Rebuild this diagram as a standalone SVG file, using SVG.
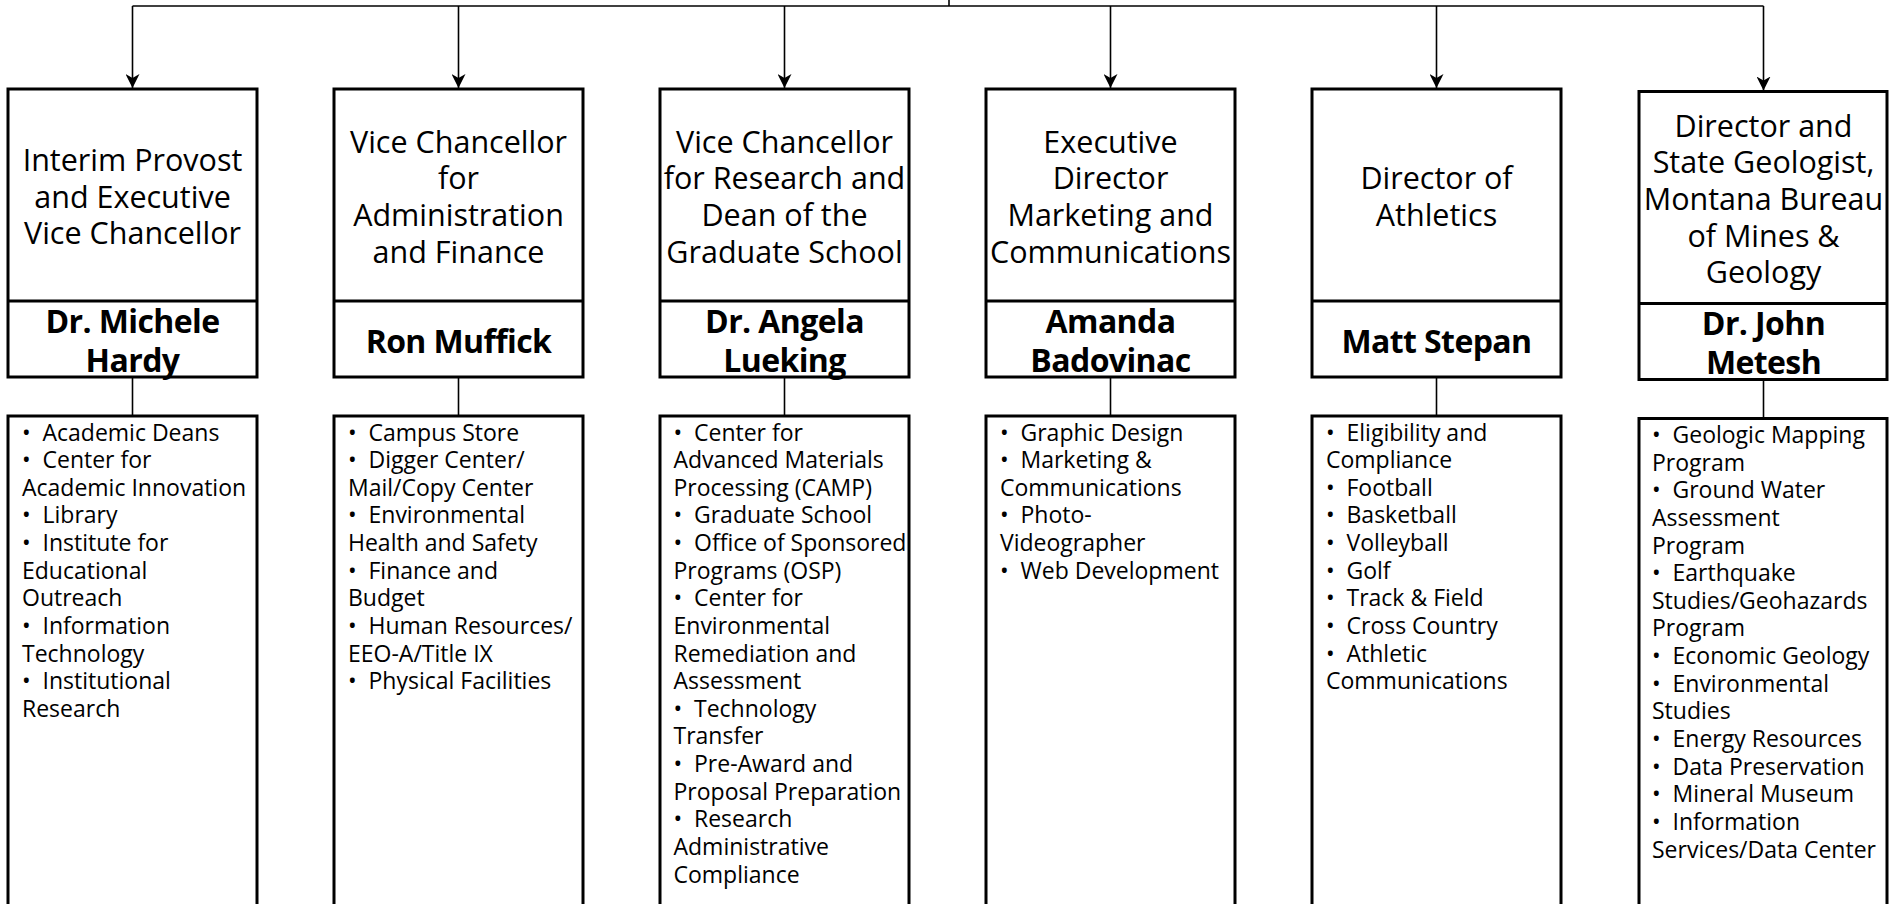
<svg xmlns="http://www.w3.org/2000/svg" width="1889" height="904" viewBox="0 0 1889 904">
<defs>
<style>
.box{fill:#fff;stroke:#000;stroke-width:3}
.dv{stroke:#000;stroke-width:3}
.c{stroke:#000;stroke-width:1.6;fill:none}
text{font-family:"Open Sans","Noto Sans",sans-serif;fill:#000;dominant-baseline:central}
.t{font-size:30.5px;text-anchor:middle}
.n{font-size:32px;font-weight:700;text-anchor:middle;letter-spacing:-0.6px}
.l{font-size:23px}
</style>
<marker id="arr" viewBox="0 0 14 14" refX="14" refY="7" markerWidth="14" markerHeight="14" markerUnits="userSpaceOnUse" orient="auto">
<path d="M0,0 L14,7 L0,14 L4,7 z" fill="#000"/>
</marker>
</defs>
<g id="connectors">
<line class="c" x1="949" y1="0" x2="949" y2="6"/>
<line class="c" x1="132.5" y1="6" x2="1763.5" y2="6"/>
<line class="c" x1="132.5" y1="6" x2="132.5" y2="88" marker-end="url(#arr)"/>
<line class="c" x1="458.5" y1="6" x2="458.5" y2="88" marker-end="url(#arr)"/>
<line class="c" x1="784.5" y1="6" x2="784.5" y2="88" marker-end="url(#arr)"/>
<line class="c" x1="1110.5" y1="6" x2="1110.5" y2="88" marker-end="url(#arr)"/>
<line class="c" x1="1436.5" y1="6" x2="1436.5" y2="88" marker-end="url(#arr)"/>
<line class="c" x1="1763.5" y1="6" x2="1763.5" y2="90.5" marker-end="url(#arr)"/>
<line class="c" x1="132.5" y1="377" x2="132.5" y2="416"/>
<line class="c" x1="458.5" y1="377" x2="458.5" y2="416"/>
<line class="c" x1="784.5" y1="377" x2="784.5" y2="416"/>
<line class="c" x1="1110.5" y1="377" x2="1110.5" y2="416"/>
<line class="c" x1="1436.5" y1="377" x2="1436.5" y2="416"/>
<line class="c" x1="1763.5" y1="379.5" x2="1763.5" y2="418.5"/>
</g>

<g id="node1">
<rect class="box" x="8" y="89" width="249" height="288"/>
<line class="dv" x1="8" y1="301" x2="257" y2="301"/>
<text class="t"><tspan x="132.5" y="158.8">Interim Provost</tspan><tspan x="132.5" y="195.5">and Executive</tspan><tspan x="132.5" y="232.2">Vice Chancellor</tspan></text>
<text class="n"><tspan x="132.5" y="320">Dr. Michele</tspan><tspan x="132.5" y="358.5">Hardy</tspan></text>
</g>
<g id="list1">
<rect class="box" x="8" y="416" width="249" height="520"/>
<text class="l">
<tspan x="22" y="431.5">•</tspan><tspan x="42.5" y="431.5">Academic Deans</tspan>
<tspan x="22" y="459.1">•</tspan><tspan x="42.5" y="459.1">Center for</tspan>
<tspan x="22" y="486.8">Academic Innovation</tspan>
<tspan x="22" y="514.4">•</tspan><tspan x="42.5" y="514.4">Library</tspan>
<tspan x="22" y="542">•</tspan><tspan x="42.5" y="542">Institute for</tspan>
<tspan x="22" y="569.7">Educational</tspan>
<tspan x="22" y="597.3">Outreach</tspan>
<tspan x="22" y="624.9">•</tspan><tspan x="42.5" y="624.9">Information</tspan>
<tspan x="22" y="652.5">Technology</tspan>
<tspan x="22" y="680.2">•</tspan><tspan x="42.5" y="680.2">Institutional</tspan>
<tspan x="22" y="707.8">Research</tspan>
</text>
</g>

<g id="node2">
<rect class="box" x="334" y="89" width="249" height="288"/>
<line class="dv" x1="334" y1="301" x2="583" y2="301"/>
<text class="t"><tspan x="458.5" y="140.5">Vice Chancellor</tspan><tspan x="458.5" y="177.2">for</tspan><tspan x="458.5" y="213.9">Administration</tspan><tspan x="458.5" y="250.6">and Finance</tspan></text>
<text class="n"><tspan x="458.5" y="339.5">Ron Muffick</tspan></text>
</g>
<g id="list2">
<rect class="box" x="334" y="416" width="249" height="520"/>
<text class="l">
<tspan x="348" y="431.5">•</tspan><tspan x="368.5" y="431.5">Campus Store</tspan>
<tspan x="348" y="459.1">•</tspan><tspan x="368.5" y="459.1">Digger Center/</tspan>
<tspan x="348" y="486.8">Mail/Copy Center</tspan>
<tspan x="348" y="514.4">•</tspan><tspan x="368.5" y="514.4">Environmental</tspan>
<tspan x="348" y="542">Health and Safety</tspan>
<tspan x="348" y="569.7">•</tspan><tspan x="368.5" y="569.7">Finance and</tspan>
<tspan x="348" y="597.3">Budget</tspan>
<tspan x="348" y="624.9">•</tspan><tspan x="368.5" y="624.9">Human Resources/</tspan>
<tspan x="348" y="652.5">EEO-A/Title IX</tspan>
<tspan x="348" y="680.2">•</tspan><tspan x="368.5" y="680.2">Physical Facilities</tspan>
</text>
</g>

<g id="node3">
<rect class="box" x="660" y="89" width="249" height="288"/>
<line class="dv" x1="660" y1="301" x2="909" y2="301"/>
<text class="t"><tspan x="784.5" y="140.5">Vice Chancellor</tspan><tspan x="784.5" y="177.2">for Research and</tspan><tspan x="784.5" y="213.9">Dean of the</tspan><tspan x="784.5" y="250.6">Graduate School</tspan></text>
<text class="n"><tspan x="784.5" y="320">Dr. Angela</tspan><tspan x="784.5" y="358.5">Lueking</tspan></text>
</g>
<g id="list3">
<rect class="box" x="660" y="416" width="249" height="520"/>
<text class="l">
<tspan x="673.5" y="431.5">•</tspan><tspan x="694" y="431.5">Center for</tspan>
<tspan x="673.5" y="459.1">Advanced Materials</tspan>
<tspan x="673.5" y="486.8">Processing (CAMP)</tspan>
<tspan x="673.5" y="514.4">•</tspan><tspan x="694" y="514.4">Graduate School</tspan>
<tspan x="673.5" y="542">•</tspan><tspan x="694" y="542">Office of Sponsored</tspan>
<tspan x="673.5" y="569.7">Programs (OSP)</tspan>
<tspan x="673.5" y="597.3">•</tspan><tspan x="694" y="597.3">Center for</tspan>
<tspan x="673.5" y="624.9">Environmental</tspan>
<tspan x="673.5" y="652.5">Remediation and</tspan>
<tspan x="673.5" y="680.2">Assessment</tspan>
<tspan x="673.5" y="707.8">•</tspan><tspan x="694" y="707.8">Technology</tspan>
<tspan x="673.5" y="735.4">Transfer</tspan>
<tspan x="673.5" y="763">•</tspan><tspan x="694" y="763">Pre-Award and</tspan>
<tspan x="673.5" y="790.7">Proposal Preparation</tspan>
<tspan x="673.5" y="818.3">•</tspan><tspan x="694" y="818.3">Research</tspan>
<tspan x="673.5" y="845.9">Administrative</tspan>
<tspan x="673.5" y="873.6">Compliance</tspan>
</text>
</g>

<g id="node4">
<rect class="box" x="986" y="89" width="249" height="288"/>
<line class="dv" x1="986" y1="301" x2="1235" y2="301"/>
<text class="t"><tspan x="1110.5" y="140.5">Executive</tspan><tspan x="1110.5" y="177.2">Director</tspan><tspan x="1110.5" y="213.9">Marketing and</tspan><tspan x="1110.5" y="250.6">Communications</tspan></text>
<text class="n"><tspan x="1110.5" y="320">Amanda</tspan><tspan x="1110.5" y="358.5">Badovinac</tspan></text>
</g>
<g id="list4">
<rect class="box" x="986" y="416" width="249" height="520"/>
<text class="l">
<tspan x="1000" y="431.5">•</tspan><tspan x="1020.5" y="431.5">Graphic Design</tspan>
<tspan x="1000" y="459.1">•</tspan><tspan x="1020.5" y="459.1">Marketing &amp;</tspan>
<tspan x="1000" y="486.8">Communications</tspan>
<tspan x="1000" y="514.4">•</tspan><tspan x="1020.5" y="514.4">Photo-</tspan>
<tspan x="1000" y="542">Videographer</tspan>
<tspan x="1000" y="569.7">•</tspan><tspan x="1020.5" y="569.7">Web Development</tspan>
</text>
</g>

<g id="node5">
<rect class="box" x="1312" y="89" width="249" height="288"/>
<line class="dv" x1="1312" y1="301" x2="1561" y2="301"/>
<text class="t"><tspan x="1436.5" y="177.2">Director of</tspan><tspan x="1436.5" y="213.9">Athletics</tspan></text>
<text class="n"><tspan x="1436.5" y="339.5">Matt Stepan</tspan></text>
</g>
<g id="list5">
<rect class="box" x="1312" y="416" width="249" height="520"/>
<text class="l">
<tspan x="1326" y="431.5">•</tspan><tspan x="1346.5" y="431.5">Eligibility and</tspan>
<tspan x="1326" y="459.1">Compliance</tspan>
<tspan x="1326" y="486.8">•</tspan><tspan x="1346.5" y="486.8">Football</tspan>
<tspan x="1326" y="514.4">•</tspan><tspan x="1346.5" y="514.4">Basketball</tspan>
<tspan x="1326" y="542">•</tspan><tspan x="1346.5" y="542">Volleyball</tspan>
<tspan x="1326" y="569.7">•</tspan><tspan x="1346.5" y="569.7">Golf</tspan>
<tspan x="1326" y="597.3">•</tspan><tspan x="1346.5" y="597.3">Track &amp; Field</tspan>
<tspan x="1326" y="624.9">•</tspan><tspan x="1346.5" y="624.9">Cross Country</tspan>
<tspan x="1326" y="652.5">•</tspan><tspan x="1346.5" y="652.5">Athletic</tspan>
<tspan x="1326" y="680.2">Communications</tspan>
</text>
</g>

<g id="node6">
<rect class="box" x="1639" y="91.5" width="248" height="288"/>
<line class="dv" x1="1639" y1="303.5" x2="1887" y2="303.5"/>
<text class="t"><tspan x="1763.5" y="124.5">Director and</tspan><tspan x="1763.5" y="161.2">State Geologist,</tspan><tspan x="1763.5" y="197.9">Montana Bureau</tspan><tspan x="1763.5" y="234.6">of Mines &amp;</tspan><tspan x="1763.5" y="271.3">Geology</tspan></text>
<text class="n"><tspan x="1763.5" y="322">Dr. John</tspan><tspan x="1763.5" y="360.5">Metesh</tspan></text>
</g>
<g id="list6">
<rect class="box" x="1639" y="418.5" width="248" height="520"/>
<text class="l">
<tspan x="1652" y="434">•</tspan><tspan x="1672.5" y="434">Geologic Mapping</tspan>
<tspan x="1652" y="461.6">Program</tspan>
<tspan x="1652" y="489.3">•</tspan><tspan x="1672.5" y="489.3">Ground Water</tspan>
<tspan x="1652" y="516.9">Assessment</tspan>
<tspan x="1652" y="544.5">Program</tspan>
<tspan x="1652" y="572.2">•</tspan><tspan x="1672.5" y="572.2">Earthquake</tspan>
<tspan x="1652" y="599.8">Studies/Geohazards</tspan>
<tspan x="1652" y="627.4">Program</tspan>
<tspan x="1652" y="655">•</tspan><tspan x="1672.5" y="655">Economic Geology</tspan>
<tspan x="1652" y="682.7">•</tspan><tspan x="1672.5" y="682.7">Environmental</tspan>
<tspan x="1652" y="710.3">Studies</tspan>
<tspan x="1652" y="737.9">•</tspan><tspan x="1672.5" y="737.9">Energy Resources</tspan>
<tspan x="1652" y="765.6">•</tspan><tspan x="1672.5" y="765.6">Data Preservation</tspan>
<tspan x="1652" y="793.2">•</tspan><tspan x="1672.5" y="793.2">Mineral Museum</tspan>
<tspan x="1652" y="820.8">•</tspan><tspan x="1672.5" y="820.8">Information</tspan>
<tspan x="1652" y="848.5">Services/Data Center</tspan>
</text>
</g>
</svg>
